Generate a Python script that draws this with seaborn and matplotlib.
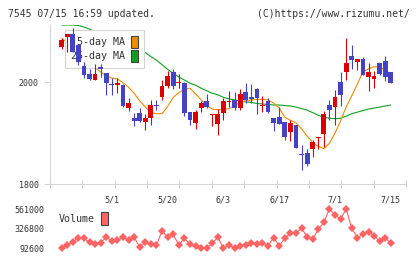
import numpy as np
import pandas as pd
import matplotlib
matplotlib.use('Agg')
import matplotlib.pyplot as plt
from matplotlib.patches import Patch
import seaborn as sns

# daily candles (day 0 .. 60)
opens = [2064, 2069, 2089, 2094, 2072, 2031, 2016, 2004, 2029, 2018,
         1997, 1994, 1994, 1950, 1930, 1939, 1921, 1929, 1955, 1970,
         1992, 2020, 1998, 1998, 1941, 1919, 1950, 1963, 1935, 1918,
         1939, 1960, 1965, 1950, 1981, 1970, 1986, 1954, 1963, 1930,
         1932, 1922, 1903, 1916, 1859, 1861, 1868, 1890, 1899, 1955,
         1952, 2001, 2020, 2051, 2039, 2045, 2010, 2006, 2038, 2041, 2020]
highs = [2064, 2086, 2094, 2107, 2072, 2040, 2026, 2036, 2036, 2018,
         2008, 2008, 1996, 1969, 1940, 1950, 1937, 1965, 1965, 2004,
         2022, 2026, 2015, 2000, 1941, 1946, 1963, 1977, 1937, 1948,
         1969, 1982, 1981, 1986, 1999, 1996, 1989, 1973, 1969, 1930,
         1951, 1922, 1926, 1916, 1876, 1868, 1886, 1893, 1943, 1965,
         1984, 2020, 2086, 2073, 2045, 2050, 2037, 2022, 2038, 2052, 2020]
lows = [2064, 2064, 2059, 2059, 2033, 2008, 2004, 2004, 2010, 1975,
        1975, 1978, 1951, 1943, 1914, 1922, 1906, 1916, 1946, 1964,
        1988, 1987, 1989, 1933, 1916, 1908, 1941, 1949, 1913, 1897,
        1926, 1951, 1945, 1945, 1958, 1959, 1937, 1941, 1939, 1904,
        1918, 1887, 1885, 1870, 1827, 1835, 1853, 1868, 1873, 1926,
        1916, 1953, 2004, 2025, 2024, 2014, 1983, 1988, 2014, 2002, 1999]
closes = [2064, 2082, 2094, 2059, 2040, 2014, 2006, 2016, 2026, 1999,
          1995, 1998, 1953, 1959, 1923, 1924, 1930, 1955, 1953, 1992,
          2012, 1992, 2000, 1939, 1926, 1942, 1959, 1951, 1937, 1937,
          1963, 1962, 1950, 1976, 1965, 1966, 1969, 1956, 1942, 1920,
          1918, 1893, 1920, 1870, 1857, 1839, 1883, 1893, 1937, 1946,
          1971, 1975, 2038, 2043, 2045, 2014, 2020, 2012, 2016, 2009, 1999]

ma5 = [np.nan, 2085, 2079, 2074, 2068, 2058, 2043, 2028, 2020, 2012,
       2008, 2006, 1999, 1990, 1978, 1963, 1951, 1940, 1938, 1938,
       1952, 1970, 1979, 1986, 1988, 1977, 1965, 1954, 1947, 1946,
       1946, 1948, 1953, 1961, 1963, 1965, 1966, 1966, 1965, 1959,
       1949, 1931, 1925, 1920, 1908, 1894, 1881, 1874, 1869, 1880,
       1900, 1924, 1951, 1973, 1996, 2020, 2026, 2030, 2030, 2023, 2016]
ma25 = [np.nan, 2112, 2112, 2112, 2111, 2108, 2104, 2099, 2094, 2090,
        2085, 2080, 2075, 2070, 2066, 2061, 2058, 2050, 2043, 2034,
        2025, 2017, 2010, 2004, 1998, 1994, 1988, 1983, 1978, 1975,
        1970, 1967, 1965, 1963, 1961, 1960, 1958, 1957, 1956, 1955,
        1955, 1954, 1953, 1951, 1948, 1945, 1940, 1935, 1931, 1929,
        1928, 1929, 1933, 1938, 1941, 1944, 1947, 1949, 1951, 1953, 1955]

# volume for days 1 .. 60
volume = [92600, 132300, 164000, 219600, 211700, 164000, 148200, 160100, 223600, 183900,
          187900, 223600, 191900, 223600, 104500, 164000, 144200, 128300, 303000, 223600,
          259300, 132300, 211700, 140200, 116400, 92600, 92600, 152100, 223600, 92600,
          132300, 92600, 120400, 132300, 152100, 140200, 160100, 124400, 219600, 124400,
          211700, 271200, 271200, 330800, 231500, 199800, 318900, 402300, 561000, 489600,
          442000, 561000, 330800, 219600, 259300, 291100, 243500, 179900, 219600, 152100]

date_labels = ['5/1', '5/20', '6/3', '6/17', '7/1', '7/15']
label_days = [10, 20, 30, 40, 50, 60]
price_ticks = [1800, 2000]
vol_ticks = [92600, 326800, 561000]

RED = '#dd0000'
BLUE = '#4343c3'
ORANGE = '#f08c00'
GREEN = '#10a020'
VOLRED = '#ff6464'
AXC = '#d4d4d4'
TXT = '#333333'

sns.set_theme(style='white')
plt.rcParams['font.family'] = ['DejaVu Sans Mono', 'DejaVu Sans']

days = np.arange(len(closes))
df = pd.DataFrame({'day': days, 'open': opens, 'high': highs, 'low': lows,
                   'close': closes, 'ma5': ma5, 'ma25': ma25})
vol = pd.DataFrame({'day': days[1:], 'volume': volume})

fig = plt.figure(figsize=(4.2, 2.59), dpi=100)
ax = fig.add_axes([50/420, 75/259, 356/420, 159/259])
axv = fig.add_axes([50/420, 7/259, 356/420, 47/259])
xlim = (-1.08, 62.72)

# moving averages (behind the legend and the candles)
sns.lineplot(data=df, x='day', y='ma25', color=GREEN, lw=0.8, ax=ax, zorder=2)
sns.lineplot(data=df, x='day', y='ma5', color=ORANGE, lw=0.8, ax=ax, zorder=2)

# candles: red up, blue down
up = df['close'] >= df['open']
col = np.where(up, RED, BLUE)
ax.vlines(df['day'], df['low'], df['high'], colors=col, lw=0.8, zorder=5)
lo = df[['open', 'close']].min(axis=1)
h = (df['close'] - df['open']).abs().clip(lower=1.6)
ax.bar(df['day'], h, bottom=lo, width=0.86, color=col, lw=0, zorder=5)

handles = [Patch(fc=ORANGE, ec='#444444', lw=0.8, label='5-day MA'),
           Patch(fc=GREEN, ec='#444444', lw=0.8, label='25-day MA')]
leg = ax.legend(handles=handles, loc='upper left', bbox_to_anchor=(0.042, 0.969),
                borderaxespad=0, markerfirst=False, fontsize=7.2,
                handlelength=0.7, handleheight=1.5, handletextpad=0.6,
                labelspacing=0.15, borderpad=0.6, fancybox=False,
                framealpha=1, edgecolor=AXC)
leg.get_frame().set_linewidth(0.8)
leg.set_zorder(4)
for t in leg.get_texts():
    t.set_color(TXT)

ax.set_xlim(*xlim)
ax.set_ylim(1800, 2112)
ax.set_yticks(price_ticks)
ax.set_yticklabels([str(v) for v in price_ticks])
ax.set_xticks(label_days)
ax.set_xticklabels(date_labels)
ax.set_xticks(np.linspace(xlim[0], xlim[1], 12), minor=True)
ax.tick_params(axis='x', which='major', bottom=True, length=0, pad=8,
               labelsize=6, labelcolor=TXT)
ax.tick_params(axis='x', which='minor', bottom=True, direction='inout',
               length=6, width=0.75, color=AXC)
ax.tick_params(axis='y', left=True, length=4, width=0.75, color=AXC, pad=4,
               labelsize=6, labelcolor=TXT)
sns.despine(ax=ax)
for s in ['left', 'bottom']:
    ax.spines[s].set_color(AXC)
    ax.spines[s].set_linewidth(0.75)
ax.set_xlabel('')
ax.set_ylabel('')

# volume panel
sns.lineplot(data=vol, x='day', y='volume', color=VOLRED, lw=0.8, marker='D',
             markersize=4, markeredgewidth=0, ax=axv)
axv.set_xlim(*xlim)
axv.set_ylim(48500, 608700)
axv.set_yticks(vol_ticks)
axv.set_yticklabels([str(v) for v in vol_ticks])
axv.set_xticks([])
axv.tick_params(axis='y', left=False, length=0, pad=4, labelsize=6, labelcolor=TXT)
for s in axv.spines.values():
    s.set_visible(False)
axv.set_xlabel('')
axv.set_ylabel('')
vleg = axv.legend(handles=[Patch(fc=VOLRED, ec='#444444', lw=0.8, label='Volume')],
                  loc='upper left', bbox_to_anchor=(0.025, 0.85), borderaxespad=0,
                  borderpad=0, frameon=False, markerfirst=False, fontsize=7.2,
                  handlelength=0.7, handleheight=1.6, handletextpad=0.6)
for t in vleg.get_texts():
    t.set_color(TXT)

fig.text(8/420, 1 - 16.7/259, '7545 07/15 16:59 updated.', fontsize=7.0,
         color=TXT, ha='left', va='baseline')
fig.text(410/420, 1 - 16.7/259, '(C)https://www.rizumu.net/', fontsize=7.0,
         color=TXT, ha='right', va='baseline')

fig.savefig('out.png', dpi=100)
